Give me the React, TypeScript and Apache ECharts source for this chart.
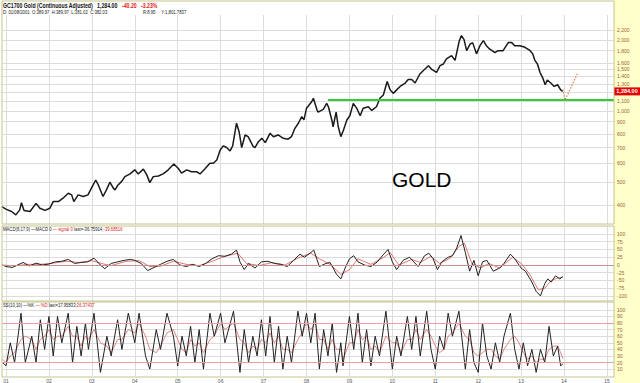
import React, { useEffect, useRef } from "react";
import * as echarts from "echarts";

// ---- data ----
const priceYears = [
  2000.9, 2001.01, 2001.13, 2001.23, 2001.32, 2001.36, 2001.42, 2001.56, 2001.7, 2001.79, 2001.91,
  2002.02, 2002.1, 2002.22, 2002.33, 2002.45, 2002.53, 2002.58, 2002.68, 2002.8, 2002.91, 2002.99,
  2003.09, 2003.15, 2003.26, 2003.34, 2003.42, 2003.5, 2003.54, 2003.61, 2003.69, 2003.77, 2003.89,
  2004.0, 2004.08, 2004.2, 2004.28, 2004.35, 2004.43, 2004.55, 2004.66, 2004.78, 2004.91,
  2005.01, 2005.09, 2005.21, 2005.32, 2005.44, 2005.52, 2005.63, 2005.75, 2005.83, 2005.91, 2005.99,
  2006.06, 2006.14, 2006.22, 2006.28, 2006.37, 2006.43, 2006.49, 2006.57, 2006.64, 2006.76, 2006.8, 2006.88, 2006.96,
  2007.04, 2007.15, 2007.23, 2007.34, 2007.46, 2007.57, 2007.65, 2007.73, 2007.81, 2007.89, 2007.94,
  2008.0, 2008.12, 2008.16, 2008.24, 2008.27, 2008.39, 2008.47, 2008.51, 2008.59, 2008.62, 2008.69, 2008.74, 2008.8, 2008.86, 2008.94,
  2009.01, 2009.09, 2009.17, 2009.25, 2009.32, 2009.44, 2009.52, 2009.63, 2009.71, 2009.79, 2009.88, 2009.95,
  2010.02, 2010.1, 2010.18, 2010.3, 2010.37, 2010.45, 2010.53, 2010.64, 2010.76, 2010.84, 2010.91,
  2011.03, 2011.11, 2011.19, 2011.26, 2011.38, 2011.46, 2011.51, 2011.56, 2011.61, 2011.67, 2011.73, 2011.81, 2011.87, 2011.96,
  2012.04, 2012.12, 2012.19, 2012.27, 2012.39, 2012.46, 2012.58, 2012.7, 2012.78, 2012.85, 2012.97,
  2013.09, 2013.21, 2013.27, 2013.32, 2013.38, 2013.44, 2013.5, 2013.56, 2013.61, 2013.69, 2013.77, 2013.85, 2013.92, 2013.97,
];
const priceValues = [
  393, 383, 375, 363, 381, 409, 379, 375, 406, 387, 379,
  387, 413, 413, 427, 448, 441, 413, 441, 434, 441, 471,
  510, 486, 434, 463, 499, 471, 463, 486, 502, 527, 541,
  563, 541, 567, 536, 497, 527, 530, 541, 563, 596,
  572, 545, 563, 553, 553, 541, 568, 600, 600, 620, 683,
  711, 700, 677, 711, 887, 817, 700, 791, 778, 706, 700, 741, 766,
  734, 804, 778, 791, 766, 759, 778, 844, 887, 946, 916,
  1026, 1094, 1131, 1016, 989, 1016, 1077, 1042, 916, 857, 989, 857, 778, 829, 916,
  954, 1077, 1026, 954, 1026, 1042, 1005, 1042, 1131, 1169, 1332, 1228,
  1187, 1228, 1270, 1313, 1359, 1359, 1313, 1434, 1505, 1555, 1505,
  1455, 1555, 1581, 1661, 1716, 1637, 1800, 1984, 2084, 2005, 1800, 1917, 1947, 1745,
  1890, 1984, 1890, 1826, 1767, 1800, 1800, 1947, 1947, 1890, 1890,
  1861, 1800, 1745, 1637, 1581, 1455, 1385, 1291, 1352, 1313, 1270, 1291, 1228, 1210,
];
const forecastYears = [2013.97, 2014.02, 2014.32];
const forecastValues = [1235, 1110, 1450];
const supportStart = 2008.5;
const supportLevel = 1110;
const lastPriceLabel = "1,284.00";

const macdYears = [
  2000.91, 2001.0, 2001.15, 2001.3, 2001.4, 2001.55, 2001.7, 2001.85, 2002.0, 2002.15, 2002.3, 2002.45, 2002.6, 2002.75, 2002.9,
  2003.05, 2003.2, 2003.3, 2003.45, 2003.6, 2003.75, 2003.9, 2004.0, 2004.15, 2004.3, 2004.45, 2004.6, 2004.75, 2004.9,
  2005.05, 2005.2, 2005.35, 2005.5, 2005.65, 2005.8, 2005.95, 2006.1, 2006.25, 2006.37, 2006.45, 2006.55, 2006.65, 2006.8, 2006.95,
  2007.1, 2007.25, 2007.4, 2007.55, 2007.7, 2007.85, 2007.95, 2008.1, 2008.17, 2008.3, 2008.45, 2008.55, 2008.7, 2008.8, 2008.9,
  2009.0, 2009.1, 2009.2, 2009.35, 2009.5, 2009.65, 2009.8, 2009.9, 2010.0, 2010.1, 2010.25, 2010.4, 2010.5, 2010.6, 2010.75, 2010.85, 2010.95,
  2011.05, 2011.15, 2011.3, 2011.4, 2011.5, 2011.6, 2011.7, 2011.8, 2011.9, 2012.0, 2012.1, 2012.2, 2012.35, 2012.5, 2012.6, 2012.75, 2012.85,
  2013.0, 2013.1, 2013.25, 2013.35, 2013.45, 2013.55, 2013.62, 2013.7, 2013.8, 2013.9, 2013.97,
];
const macdValues = [
  0, -5, -8, 2, 8, -3, 6, 0, 3, 10, 12, 18, 5, 8, 10,
  22, 0, -12, 5, 10, 15, 18, 15, 5, -18, -8, 2, 12, 18,
  0, -5, 2, -5, 5, 20, 30, 28, 35, 48, 10, -15, 5, -10, 10,
  12, 5, 2, -5, 15, 35, 25, 40, 48, -5, 5, 8, -30, -45, -10,
  20, 30, 10, 0, -5, 10, 35, 50, 10, -15, 15, 25, 10, -5, 30, 38, 20,
  -15, 10, 25, 30, 55, 95, 40, -20, 15, -35, 10, 15, -20, -10, 5, 35, 20,
  -10, -20, -55, -85, -100, -60, -45, -55, -35, -45, -37,
];
const signalYears = [
  2000.91, 2001.2, 2001.5, 2001.8, 2002.1, 2002.4, 2002.7, 2003.0, 2003.25, 2003.45, 2003.8, 2004.1, 2004.35, 2004.6, 2004.9,
  2005.2, 2005.5, 2005.8, 2006.1, 2006.4, 2006.6, 2006.9, 2007.2, 2007.5, 2007.8, 2008.1, 2008.3, 2008.55, 2008.8, 2009.0,
  2009.2, 2009.5, 2009.8, 2009.95, 2010.15, 2010.45, 2010.65, 2010.9, 2011.1, 2011.35, 2011.55, 2011.68, 2011.85, 2012.05,
  2012.25, 2012.5, 2012.8, 2013.0, 2013.2, 2013.4, 2013.55, 2013.7, 2013.85, 2013.97,
];
const signalValues = [
  0, -3, 2, 2, 6, 12, 8, 14, 4, -2, 12, 14, -5, -4, 12,
  2, -2, 12, 28, 38, 5, -2, 8, 0, 22, 38, 20, 2, -30, -15,
  20, 2, 25, 40, 0, 18, 8, 28, 5, 22, 60, 70, 5, -10,
  5, -10, 25, 5, -30, -80, -75, -50, -42, -40,
];

const kYears = [
  2000.92, 2001.0, 2001.1, 2001.2, 2001.35, 2001.45, 2001.6, 2001.7, 2001.8, 2001.9, 2002.0, 2002.1, 2002.2, 2002.3, 2002.45,
  2002.55, 2002.65, 2002.75, 2002.85, 2002.92, 2003.05, 2003.2, 2003.35, 2003.45, 2003.6, 2003.7, 2003.85, 2004.0, 2004.1,
  2004.25, 2004.35, 2004.5, 2004.6, 2004.75, 2004.9, 2005.0, 2005.1, 2005.2, 2005.3, 2005.4, 2005.5, 2005.6, 2005.75, 2005.85,
  2006.0, 2006.1, 2006.3, 2006.45, 2006.55, 2006.65, 2006.75, 2006.85, 2006.95, 2007.05, 2007.15, 2007.25, 2007.35, 2007.45,
  2007.55, 2007.65, 2007.8, 2007.9, 2008.0, 2008.1, 2008.2, 2008.3, 2008.4, 2008.5, 2008.6, 2008.7, 2008.8, 2008.85, 2009.0,
  2009.1, 2009.2, 2009.3, 2009.4, 2009.5, 2009.6, 2009.7, 2009.85, 2010.0, 2010.1, 2010.2, 2010.35, 2010.45, 2010.55, 2010.65,
  2010.8, 2010.9, 2011.0, 2011.1, 2011.2, 2011.3, 2011.4, 2011.55, 2011.7, 2011.8, 2011.9, 2012.0, 2012.1, 2012.2, 2012.3,
  2012.4, 2012.5, 2012.6, 2012.75, 2012.85, 2012.95, 2013.05, 2013.15, 2013.25, 2013.35, 2013.45, 2013.55, 2013.65, 2013.75,
  2013.85, 2013.92, 2013.97,
];
const kValues = [
  20, 15, 50, 20, 95, 20, 60, 20, 85, 40, 90, 30, 90, 50, 95,
  20, 75, 30, 80, 40, 95, 5, 60, 30, 85, 40, 95, 50, 95,
  30, 10, 70, 40, 95, 60, 15, 60, 30, 75, 20, 70, 10, 95, 60,
  95, 50, 98, 5, 70, 20, 60, 30, 85, 30, 90, 20, 75, 10,
  60, 20, 98, 60, 95, 50, 95, 10, 70, 30, 80, 5, 50, 15, 90,
  40, 95, 20, 70, 15, 60, 30, 98, 10, 60, 30, 90, 40, 90, 30,
  98, 40, 10, 60, 40, 95, 60, 98, 10, 70, 20, 5, 80, 30, 10,
  50, 20, 60, 95, 40, 10, 50, 15, 40, 5, 40, 20, 75, 30,
  45, 15, 18,
];
// %D read at the same dates as %K
const dValues = [
  25, 20, 30, 35, 55, 60, 55, 40, 55, 60, 70, 55, 60, 60, 75,
  60, 60, 45, 60, 55, 70, 50, 45, 35, 55, 55, 70, 65, 80,
  60, 40, 35, 45, 65, 70, 55, 40, 35, 55, 45, 50, 35, 55, 60,
  80, 70, 80, 55, 50, 35, 45, 40, 55, 50, 65, 50, 60, 40,
  40, 35, 55, 65, 80, 70, 80, 55, 55, 40, 55, 40, 40, 25, 50,
  50, 70, 55, 60, 40, 45, 35, 60, 50, 50, 35, 55, 55, 70, 55,
  70, 60, 45, 35, 40, 60, 65, 80, 60, 55, 35, 30, 35, 40, 40,
  30, 25, 40, 55, 60, 50, 35, 25, 30, 20, 25, 25, 40, 45,
  45, 35, 26,
];

const priceTicks = [400, 500, 600, 700, 800, 900, 1000, 1100, 1200, 1300, 1400, 1500, 1600, 1800, 2000, 2200];
const macdTicks = [-100, -75, -50, -25, 0, 25, 50, 75, 100];
const stochTicks = [10, 20, 30, 40, 50, 60, 70, 80, 90, 100];
const yearTicks = [2001, 2002, 2003, 2004, 2005, 2006, 2007, 2008, 2009, 2010, 2011, 2012, 2013, 2014, 2015];

const zip = (xs: number[], ys: number[]) => xs.map((x, i) => [x, ys[i]]);

const X_MIN = 2000.907;
const X_MAX = 2015.163;
const GRID_COLOR = "#dcdcdc";
const LABEL_COLOR = "#a0622d";
const BORDER = "#c4c48c";

function xAxis(gridIndex: number, showLabels: boolean) {
  return {
    type: "value",
    gridIndex,
    min: X_MIN,
    max: X_MAX,
    axisLine: { show: false },
    axisTick: { show: false, customValues: yearTicks },
    axisLabel: {
      show: showLabels,
      customValues: yearTicks,
      formatter: (v: number) => String(Math.round(v) % 100).padStart(2, "0"),
      fontSize: 5,
      color: "#555",
      margin: 2,
      fontFamily: "Liberation Sans",
    },
    splitLine: { show: true, lineStyle: { color: GRID_COLOR, width: 1 } },
  };
}

function yAxis(gridIndex: number, type: string, min: number, max: number, ticks: number[], fmt: (v: number) => string) {
  return {
    type,
    gridIndex,
    position: "right",
    min,
    max,
    axisLine: { show: false },
    axisTick: { show: false, customValues: ticks },
    axisLabel: {
      customValues: ticks,
      formatter: fmt,
      fontSize: 5,
      color: LABEL_COLOR,
      margin: 3,
      fontFamily: "Liberation Sans",
    },
    splitLine: { show: true, lineStyle: { color: GRID_COLOR, width: 1 } },
  };
}

export default function App() {
  const ref = useRef<HTMLDivElement>(null);
  useEffect(() => {
    if (!ref.current) return;
    const chart = echarts.init(ref.current, null, { renderer: "svg" });
    const lastValue = priceValues[priceValues.length - 1];
    const option = {
      animation: false,
      backgroundColor: "#ffffff",
      grid: [
        { left: 2, right: 26, top: 15, height: 209 },
        { left: 2, right: 26, top: 226, height: 75 },
        { left: 2, right: 26, top: 302, height: 75 },
      ],
      xAxis: [xAxis(0, false), xAxis(1, false), xAxis(2, true)],
      yAxis: [
        yAxis(0, "log", 332, 2549, priceTicks, (v: number) => (Math.round(v) === 1200 ? "" : v.toLocaleString("en-US"))),
        yAxis(1, "value", -116.2, 125.8, macdTicks, (v: number) => String(v)),
        yAxis(2, "value", -0.5, 112, stochTicks, (v: number) => String(v)),
      ],
      series: [
        {
          type: "line",
          xAxisIndex: 0,
          yAxisIndex: 0,
          data: zip(priceYears, priceValues),
          showSymbol: false,
          lineStyle: { color: "#1a1a1a", width: 1.5 },
          z: 3,
          markLine: {
            silent: true,
            symbol: "none",
            data: [
              [
                { coord: [supportStart, supportLevel] },
                { coord: [X_MAX, supportLevel] },
              ],
            ],
            lineStyle: { color: "#33cc33", width: 2, type: "solid" },
            label: { show: false },
          },
          markPoint: {
            silent: true,
            data: [
              {
                coord: [X_MAX, lastValue],
                symbol: "rect",
                symbolSize: [26, 8],
                symbolOffset: [13, 0],
                itemStyle: { color: "#e00000" },
                label: {
                  show: true,
                  position: "inside",
                  formatter: lastPriceLabel,
                  color: "#ffffff",
                  fontSize: 5.5,
                  fontWeight: "bold",
                  fontFamily: "Liberation Sans",
                },
              },
            ],
          },
        },
        {
          type: "line",
          xAxisIndex: 0,
          yAxisIndex: 0,
          data: zip(forecastYears, forecastValues),
          showSymbol: false,
          lineStyle: { color: "#e8784a", width: 1.2, type: [1.5, 1.5] },
          z: 4,
        },
        {
          type: "line",
          xAxisIndex: 1,
          yAxisIndex: 1,
          data: zip(signalYears, signalValues),
          showSymbol: false,
          lineStyle: { color: "#d9534f", width: 0.8 },
          markLine: {
            silent: true,
            symbol: "none",
            data: [{ yAxis: 0 }],
            lineStyle: { color: "#c9908a", width: 1, type: "solid" },
            label: { show: false },
          },
        },
        {
          type: "line",
          xAxisIndex: 1,
          yAxisIndex: 1,
          data: zip(macdYears, macdValues),
          showSymbol: false,
          lineStyle: { color: "#222222", width: 1 },
        },
        {
          type: "line",
          xAxisIndex: 2,
          yAxisIndex: 2,
          data: zip(kYears, dValues),
          showSymbol: false,
          lineStyle: { color: "#e06666", width: 0.8 },
          markLine: {
            silent: true,
            symbol: "none",
            data: [{ yAxis: 80 }, { yAxis: 20 }],
            lineStyle: { color: "#e8a0a0", width: 1, type: "solid" },
            label: { show: false },
          },
        },
        {
          type: "line",
          xAxisIndex: 2,
          yAxisIndex: 2,
          data: zip(kYears, kValues),
          showSymbol: false,
          lineStyle: { color: "#222222", width: 1 },
        },
      ],
      graphic: [
        { type: "rect", z: -10, shape: { x: 614, y: 0, width: 26, height: 383 }, style: { fill: "#ffffcc" } },
        { type: "rect", z: 10, shape: { x: 2, y: 1, width: 612, height: 223 }, style: { fill: "none", stroke: BORDER, lineWidth: 1 } },
        { type: "rect", z: 10, shape: { x: 2, y: 226, width: 612, height: 75 }, style: { fill: "none", stroke: BORDER, lineWidth: 1 } },
        { type: "rect", z: 10, shape: { x: 2, y: 302, width: 612, height: 75 }, style: { fill: "none", stroke: BORDER, lineWidth: 1 } },
        { type: "rect", z: 5, shape: { x: 3, y: 2, width: 610, height: 13 }, style: { fill: "#ffffff" } },
        { type: "text", z: 11, x: 3, y: 2, scaleX: 0.8, style: { text: "GC1700 Gold (Continuous Adjusted)   1,284.00", font: "bold 6.5px 'Liberation Sans'", fill: "#111" } },
        { type: "text", z: 11, x: 122, y: 2, scaleX: 0.8, style: { text: "-40.20   -3.23%", font: "bold 6.5px 'Liberation Sans'", fill: "#e02020" } },
        { type: "text", z: 11, x: 3, y: 9.5, scaleX: 0.85, style: { text: "D: 01/08/2001  O:389.97  H:389.97  L:381.02  C:382.03", font: "5px 'Liberation Sans'", fill: "#222" } },
        { type: "text", z: 11, x: 143, y: 9.5, scaleX: 0.85, style: { text: "R:8.95     Y:1,801.7837", font: "5px 'Liberation Sans'", fill: "#222" } },
        { type: "text", z: 11, x: 392, y: 169, style: { text: "GOLD", font: "21px 'Liberation Sans'", fill: "#000" } },
        {
          type: "text", z: 11, x: 3, y: 227, scaleX: 0.85,
          style: {
            text: "{k|MACD(8,17,9) —MACD 0 }{r|— signal 0 }{k|last=-36.75914;}{r|-39.68516}",
            font: "5px 'Liberation Sans'",
            rich: { k: { fill: "#222", fontSize: 5, fontFamily: "Liberation Sans" }, r: { fill: "#e02020", fontSize: 5, fontFamily: "Liberation Sans" } },
          },
        },
        {
          type: "text", z: 11, x: 3, y: 303, scaleX: 0.85,
          style: {
            text: "{k|SS(10,10) —%K }{r|— %D }{k|last=17.95833;}{r|26.37437}",
            font: "5px 'Liberation Sans'",
            rich: { k: { fill: "#222", fontSize: 5, fontFamily: "Liberation Sans" }, r: { fill: "#e02020", fontSize: 5, fontFamily: "Liberation Sans" } },
          },
        },
      ],
    };
    chart.setOption(option as any);
    return () => chart.dispose();
  }, []);
  return <div ref={ref} style={{ position: "fixed", left: 0, top: 0, width: 640, height: 383 }} />;
}
